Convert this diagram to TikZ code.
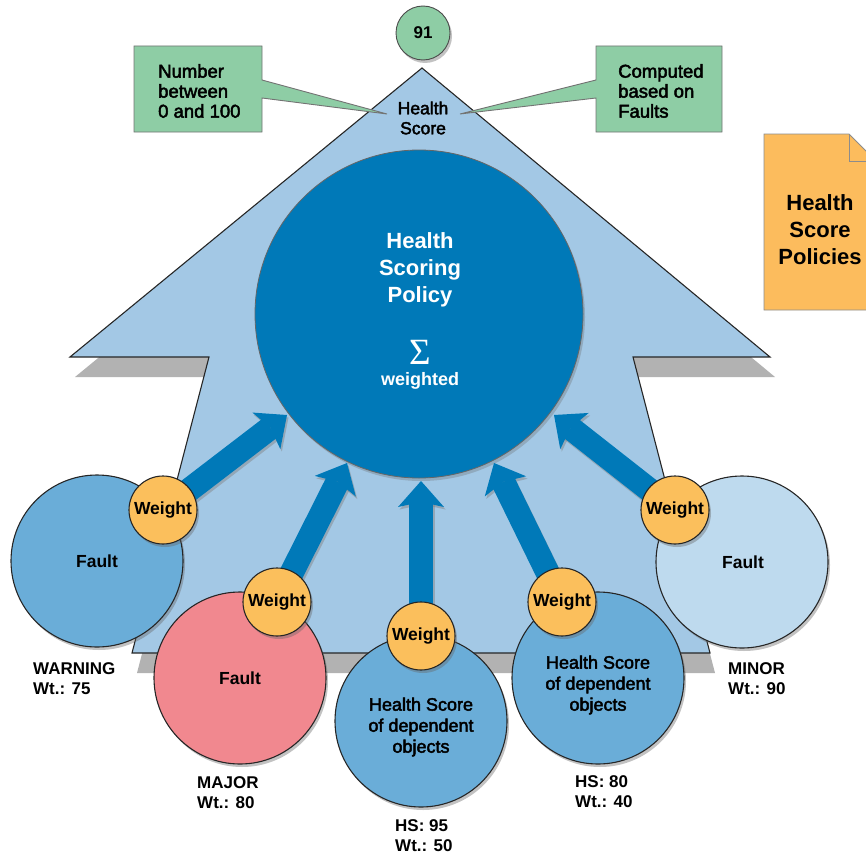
\documentclass[tikz,border=0pt]{standalone}
\usepackage{fontspec}
\setmainfont{Liberation Sans}
\newfontfamily\medfont{Liberation Sans}[FakeBold=2.5]
\newfontfamily\sigmafont{Liberation Serif}
\usetikzlibrary{arrows.meta,shadows}
\definecolor{shapeblue}{HTML}{A3C8E5}
\definecolor{dkblue}{HTML}{0079B8}
\definecolor{midblue}{HTML}{6AADD8}
\definecolor{paleblue}{HTML}{BEDAEE}
\definecolor{faultpink}{HTML}{F1888F}
\definecolor{wtorange}{HTML}{FBBF5C}
\definecolor{docorange}{HTML}{FCBC5D}
\definecolor{callgreen}{HTML}{8ECDA5}
\definecolor{shadowgray}{HTML}{B2B2B2}
\pgfdeclarelayer{back}
\pgfdeclarelayer{arrowlayer}
\pgfsetlayers{back,arrowlayer,main}
\tikzset{
  outline/.style={draw=black!85, line width=1.1pt},
  softshadow/.style={drop shadow={shadow xshift=2pt, shadow yshift=-3pt, opacity=0.4, fill=black!60}},
  bignode/.style={circle, outline, minimum size=172pt, inner sep=0pt, softshadow},
  wnode/.style={circle, outline, fill=wtorange, minimum size=68pt, inner sep=0pt, softshadow,
    font=\bfseries\fontsize{17.5}{20}\selectfont},
  faulttext/.style={font=\bfseries\fontsize{17.5}{20}\selectfont},
  hstext/.style={align=center, font=\medfont\fontsize{18}{21}\selectfont},
  sevlabel/.style={anchor=west, align=left, inner sep=0pt, font=\bfseries\fontsize{17}{20}\selectfont},
  calltext/.style={anchor=west, align=left, inner sep=0pt, font=\medfont\fontsize{18.5}{20}\selectfont},
  blocktip/.style={-{Stealth[width=46pt,length=26pt,inset=5pt,line width=0pt]}},
  blockarrow/.style={dkblue, line width=24pt, blocktip},
  arrowshade/.style={black!50, opacity=0.45, line width=24pt, blocktip, transform canvas={shift={(1.5pt,-2.5pt)}}},
}
\begin{document}
\begin{tikzpicture}[x=1pt,y=-1pt]
\useasboundingbox (0,0) rectangle (866,856);
\clip (0,0) rectangle (866,856);

% ---- big arrow shape and main circle (back layer)
\begin{pgfonlayer}{back}
  \fill[shadowgray, shift={(5,20)}] (422,68) -- (770,357) -- (633,357) -- (710,653) -- (132,653) -- (209,357) -- (70,357) -- cycle;
  \filldraw[fill=shapeblue, outline] (422,68) -- (770,357) -- (633,357) -- (710,653) -- (132,653) -- (209,357) -- (70,357) -- cycle;
  \node[circle, fill=dkblue, draw=black!60, line width=0.8pt, minimum size=328pt, inner sep=0pt,
        drop shadow={shadow xshift=2pt, shadow yshift=-3pt, opacity=0.3, fill=black!60}] (policy) at (419,314) {};
\end{pgfonlayer}

% ---- callouts
\filldraw[fill=callgreen, draw=black!55, line width=0.9pt]
  (134,46) -- (262,46) -- (262,80) -- (387,114) -- (262,98) -- (262,132) -- (134,132) -- cycle;
\filldraw[fill=callgreen, draw=black!55, line width=0.9pt]
  (722,46) -- (596,46) -- (596,80) -- (460,114) -- (596,98) -- (596,132) -- (722,132) -- cycle;
\node[calltext] (numtext) at (158,91) {Number\\between\\0 and 100};
\node[calltext] (comptext) at (618,91) {Computed\\based on\\Faults};

% ---- score bubble
\node[circle, fill=callgreen, draw=black!70, line width=0.9pt, minimum size=54pt, inner sep=0pt,
      softshadow, font=\bfseries\fontsize{17}{20}\selectfont] (score) at (423,33) {91};
\node[align=center, font=\medfont\fontsize{17.5}{20}\selectfont] (hslabel) at (423,118) {Health\\Score};

% ---- policy document
\filldraw[fill=docorange, draw=black!45, line width=0.9pt]
  (764,134) -- (849,134) -- (876,161) -- (876,310) -- (764,310) -- cycle;
\draw[draw=black!45, line width=0.9pt] (849,134) -- (849,161) -- (876,161);
\node[align=center, font=\bfseries\fontsize{22}{27}\selectfont] (doctext) at (820,230) {Health\\Score\\Policies};

% ---- policy text
\node[align=center, text=white, font=\bfseries\fontsize{22}{27}\selectfont] (ptitle) at (420,270) {Health\\Scoring\\Policy};
\node[text=white, inner sep=0pt, font=\sigmafont\fontsize{37}{37}\selectfont] (psum) at (420,352) {Σ};
\node[text=white, font=\bfseries\fontsize{18}{20}\selectfont] (pweighted) at (420,381) {weighted};

% ---- contributing circles
\node[bignode, fill=midblue] (warnc) at (97,561) {};
\node[bignode, fill=faultpink] (majc) at (240,678) {};
\node[bignode, fill=midblue] (hs95c) at (421,721) {};
\node[bignode, fill=midblue] (hs80c) at (598,678) {};
\node[bignode, fill=paleblue] (minc) at (742,562) {};

\node[faulttext] (warnt) at (97,561) {Fault};
\node[faulttext] (majt) at (240,678) {Fault};
\node[faulttext] (mint) at (743,562) {Fault};
\node[hstext] (hs95t) at (421,727) {Health Score\\of dependent\\objects};
\node[hstext] (hs80t) at (598,685) {Health Score\\of dependent\\objects};

% ---- weights
\node[wnode] (w1) at (163,510) {Weight};
\node[wnode] (w2) at (277,602) {Weight};
\node[wnode] (w3) at (421,636) {Weight};
\node[wnode] (w4) at (562,602) {Weight};
\node[wnode] (w5) at (675,510) {Weight};

% ---- arrow tips
\coordinate (t1) at (287,415);
\coordinate (t2) at (347,463);
\coordinate (t3) at (421,481);
\coordinate (t4) at (494,463);
\coordinate (t5) at (554,415);

\begin{pgfonlayer}{arrowlayer}
  \foreach \w/\t in {w1/t1, w2/t2, w3/t3, w4/t4, w5/t5} {
    \draw[arrowshade] (\w.center) -- (\t);
    \draw[blockarrow] (\w.center) -- (\t);
  }
\end{pgfonlayer}

% ---- severity labels
\node[sevlabel] (warnl) at (33,679) {WARNING\\Wt.: 75};
\node[sevlabel] (majl) at (197,793) {MAJOR\\Wt.: 80};
\node[sevlabel] (hs95l) at (395,836) {HS: 95\\Wt.: 50};
\node[sevlabel] (hs80l) at (575,792) {HS: 80\\Wt.: 40};
\node[sevlabel] (minl) at (728,679) {MINOR\\Wt.: 90};
\end{tikzpicture}
\end{document}
